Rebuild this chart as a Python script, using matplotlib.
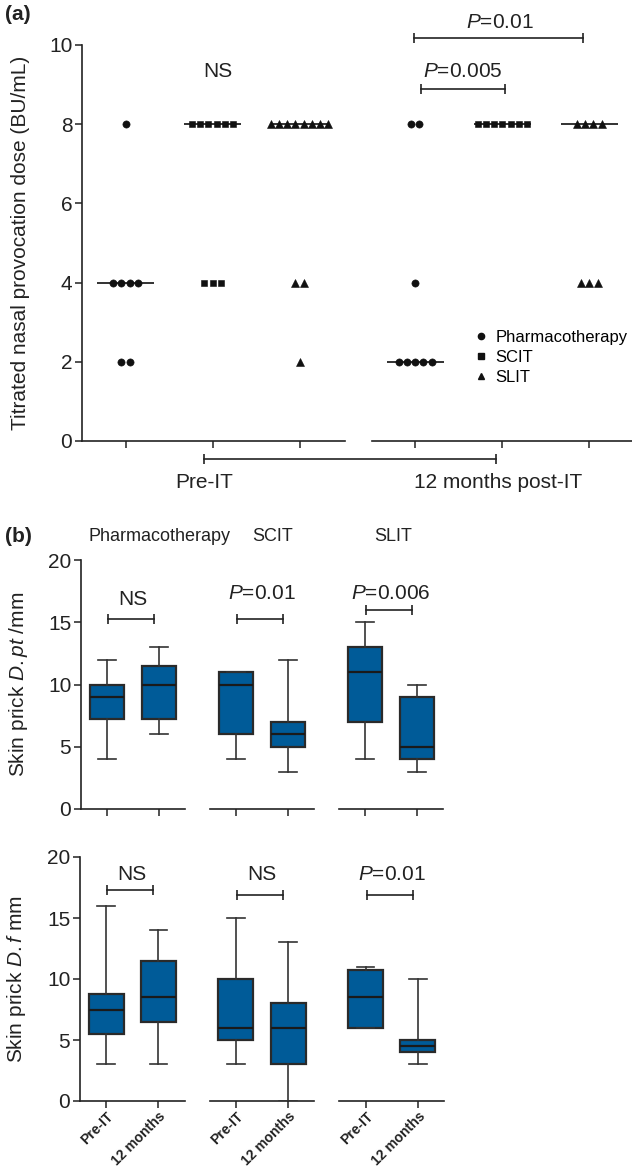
import matplotlib
matplotlib.use("Agg")
import matplotlib.pyplot as plt
from matplotlib.lines import Line2D
import numpy as np

plt.rcParams["font.family"] = ["Liberation Sans", "DejaVu Sans"]
plt.rcParams["mathtext.fontset"] = "custom"
plt.rcParams["mathtext.rm"] = "Liberation Sans"
plt.rcParams["mathtext.it"] = "Liberation Sans:italic"

INK = "#222222"
BOX_BLUE = "#005b98"

# ---- panel (a): titrated nasal provocation dose, one value per patient ----
treatments = ["Pharmacotherapy", "SCIT", "SLIT"]
markers = ["o", "s", "^"]
pharm_pre = [8, 4, 4, 4, 4, 2, 2]
scit_pre = [8, 8, 8, 8, 8, 8, 4, 4, 4]
slit_pre = [8, 8, 8, 8, 8, 8, 8, 8, 4, 4, 2]
pharm_post = [8, 8, 4, 2, 2, 2, 2, 2]
scit_post = [8, 8, 8, 8, 8, 8, 8]
slit_post = [8, 8, 8, 8, 4, 4, 4]
period_labels = ["Pre-IT", "12 months post-IT"]

# ---- panel (b): skin prick wheal size, box summaries ----
# order: Pharmacotherapy pre/12m, SCIT pre/12m, SLIT pre/12m
box_ticklabels = ["Pre-IT", "12 months"] * 3
dpt_low = [4, 6, 4, 3, 4, 3]
dpt_q1 = [7.25, 7.25, 6, 5, 7, 4]
dpt_med = [9, 10, 10, 6, 11, 5]
dpt_q3 = [10, 11.5, 11, 7, 13, 9]
dpt_high = [12, 13, 11, 12, 15, 10]
dpt_sig = ["NS", "$P$=0.01", "$P$=0.006"]

df_low = [3, 3, 3, 0, 6, 3]
df_q1 = [5.5, 6.5, 5, 3, 6, 4]
df_med = [7.5, 8.5, 6, 6, 8.5, 4.5]
df_q3 = [8.75, 11.5, 10, 8, 10.75, 5]
df_high = [16, 14, 15, 13, 11, 10]
df_sig = ["NS", "NS", "$P$=0.01"]

W, H = 632, 1170


def px_axes(fig, left, top, right, bottom):
    return fig.add_axes([left / W, 1 - bottom / H, (right - left) / W, (bottom - top) / H])


def bracket(ax, x0, x1, y):
    ax.plot([x0, x1], [y, y], color=INK, lw=1.2, marker="|", markersize=7,
            markeredgewidth=1.2, clip_on=False)


def spread(values, step=0.094):
    xs, ys = [], []
    for v in sorted(set(values), reverse=True):
        n = values.count(v)
        xs += list((np.arange(n) - (n - 1) / 2) * step)
        ys += [v] * n
    return np.array(xs), np.array(ys)


def style_axis(ax):
    for side in ["top", "right", "bottom"]:
        ax.spines[side].set_visible(False)
    ax.spines["left"].set_linewidth(1.2)
    ax.spines["left"].set_color(INK)
    ax.tick_params(direction="out", length=5, width=1.1, color=INK,
                   labelsize=15, labelcolor=INK, pad=2)


fig = plt.figure(figsize=(W / 100, H / 100), dpi=100)

# ---------------- panel (a) ----------------
ax = px_axes(fig, 82, 45, 632, 441)
style_axis(ax)
pre_pos = [0, 1, 2]
post_pos = [3.33, 4.33, 5.33]
ax.set_xlim(-0.5, 5.82)
ax.set_ylim(0, 10)
ax.set_yticks([0, 2, 4, 6, 8, 10])
ax.set_xticks(pre_pos + post_pos)
ax.set_xticklabels([])
ax.plot([-0.5, 2.52], [0, 0], color=INK, lw=1.2, clip_on=False)
ax.plot([2.83, 5.82], [0, 0], color=INK, lw=1.2, clip_on=False)

groups = [pharm_pre, scit_pre, slit_pre, pharm_post, scit_post, slit_post]
sizes = {"o": 5.2, "s": 4.7, "^": 5.6}
for i, (vals, pos) in enumerate(zip(groups, pre_pos + post_pos)):
    mk = markers[i % 3]
    ax.hlines(np.median(vals), pos - 0.33, pos + 0.33, color=INK, lw=1.3, zorder=2)
    dx, ys = spread(vals)
    ax.plot(pos + dx, ys, linestyle="none", marker=mk, color="#111111",
            markersize=sizes[mk], markeredgewidth=0.4, zorder=3, clip_on=False)

ax.text(1.06, 9.32, "NS", ha="center", va="center", fontsize=15, color=INK)
bracket(ax, 3.40, 4.36, 8.89)
ax.text(3.88, 9.32, "$P$=0.005", ha="center", va="center", fontsize=15, color=INK)
bracket(ax, 3.31, 5.26, 10.18)
ax.text(4.30, 10.58, "$P$=0.01", ha="center", va="center", fontsize=15, color=INK,
        clip_on=False)

bracket(ax, 0.9, 4.26, -0.45)
ax.text(0.9, -1.04, period_labels[0], ha="center", va="center", fontsize=15, color=INK)
ax.text(4.28, -1.04, period_labels[1], ha="center", va="center", fontsize=15, color=INK)

ax.set_ylabel("Titrated nasal provocation dose (BU/mL)", fontsize=15, color=INK)
ax.yaxis.set_label_coords(-0.095, 0.5)

handles = [Line2D([], [], linestyle="none", marker=m, color="#111111", markersize=4.5)
           for m in markers]
ax.legend(handles, treatments, loc="upper left", frameon=False, fontsize=12,
          bbox_to_anchor=(474 / W, 1 - 330 / H), bbox_transform=fig.transFigure,
          borderaxespad=0, borderpad=0, handlelength=0.8, handletextpad=0.5,
          labelspacing=0.3)

fig.text(5 / W, 1 - 15 / H, "(a)", fontsize=15, fontweight="bold", va="center", color=INK)

# ---------------- panel (b) ----------------
box_pos = [0, 1, 2.48, 3.48, 4.96, 5.96]


def box_panel(ax, low, q1, med, q3, high, sig, bar_y, txt_y):
    style_axis(ax)
    stats = [dict(whislo=a, q1=b, med=c, q3=d, whishi=e, fliers=[])
             for a, b, c, d, e in zip(low, q1, med, q3, high)]
    ax.bxp(stats, positions=box_pos, widths=0.67, capwidths=0.34, patch_artist=True,
           showfliers=False,
           boxprops=dict(facecolor=BOX_BLUE, edgecolor="#2a2a2a", linewidth=1.6),
           whiskerprops=dict(color="#333333", linewidth=1.2),
           capprops=dict(color="#333333", linewidth=1.2),
           medianprops=dict(color="#1a1a1a", linewidth=1.6))
    ax.set_xlim(-0.5, 6.46)
    ax.set_ylim(0, 20)
    ax.set_yticks([0, 5, 10, 15, 20])
    ax.set_xticks(box_pos)
    for g in range(3):
        p0, p1 = box_pos[2 * g], box_pos[2 * g + 1]
        ax.plot([p0 - 0.5, p1 + 0.5], [0, 0], color=INK, lw=1.2, clip_on=False, zorder=1)
        bracket(ax, p0 + 0.02, p1 - 0.1, bar_y[g])
        ax.text((p0 + p1) / 2, txt_y[g], sig[g], ha="center", va="center",
                fontsize=15, color=INK)


ax1 = px_axes(fig, 81, 560, 443, 809)
box_panel(ax1, dpt_low, dpt_q1, dpt_med, dpt_q3, dpt_high, dpt_sig,
          [15.3, 15.3, 16.0], [16.8, 17.3, 17.3])
ax1.set_xticklabels([])
ax1.set_ylabel("Skin prick $\\mathit{D.pt}$ /mm", fontsize=15, color=INK)
ax1.yaxis.set_label_coords(-0.142, 0.5)
for x, name in zip([-0.35, 2.79, 5.13], treatments):
    ax1.text(x, 21.85, name, ha="left", va="center", fontsize=13, color=INK, clip_on=False)
fig.text(5 / W, 1 - 537 / H, "(b)", fontsize=15, fontweight="bold", va="center", color=INK)

ax2 = px_axes(fig, 80, 857, 444, 1101)
box_panel(ax2, df_low, df_q1, df_med, df_q3, df_high, df_sig,
          [17.3, 16.9, 16.9], [18.6, 18.6, 18.6])
ax2.set_xticklabels(box_ticklabels, rotation=45, ha="right", va="top",
                    rotation_mode="anchor", fontsize=10, fontweight="bold")
ax2.tick_params(axis="x", pad=1)
ax2.set_ylabel("Skin prick $\\mathit{D.f}$ mm", fontsize=15, color=INK)
ax2.yaxis.set_label_coords(-0.142, 0.5)

fig.savefig("out.png", dpi=100)
